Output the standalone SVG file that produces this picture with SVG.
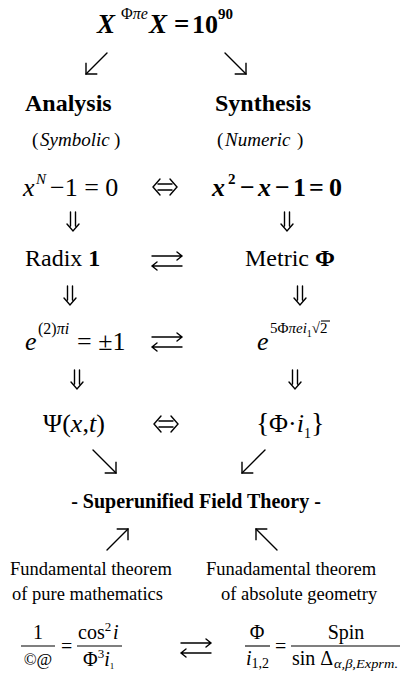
<svg xmlns="http://www.w3.org/2000/svg" width="403" height="673" viewBox="0 0 403 673">
<defs>
<style>
.t{font-family:'Liberation Serif','Times New Roman',serif;fill:#000}
.b{font-weight:bold}
.i{font-style:italic}
.ar{fill:none;stroke:#000;stroke-width:1.4;stroke-linecap:round;stroke-linejoin:miter}
.ln{fill:none;stroke:#000;stroke-width:1.1}
</style>
<marker id="ah" viewBox="0 0 10 18" refX="9" refY="9" markerWidth="10" markerHeight="18" orient="auto" markerUnits="userSpaceOnUse">
<path d="M1,1 L9,9 L1,17" fill="none" stroke="#000" stroke-width="1.4"/>
</marker>
<g id="iff" class="ar"><path d="M-7,-3 H7 M-7,3 H7 M-5,-8 L-12,0 L-5,8 M5,-8 L12,0 L5,8"/></g>
<g id="down" class="ar"><path d="M-2.5,0 V14 M2.5,0 V14 M-6,12 L0,19 L6,12"/></g>
<g id="rlarr" class="ar"><path d="M-15,-5 H15 M10,-9 L15,-5 L10,-1 M15,5 H-15 M-10,9 L-15,5 L-10,1"/></g>
</defs>
<rect width="403" height="673" fill="#fff"/>

<g id="title">
<text class="t" y="33"><tspan class="b i" font-size="27" x="97">X</tspan><tspan font-size="16" x="121" y="19">Φ</tspan><tspan class="i" font-size="16" y="19">πe</tspan><tspan class="b i" font-size="27" x="149" y="33">X</tspan><tspan class="b" font-size="27" x="174">=</tspan><tspan class="b" font-size="26" x="192">10</tspan><tspan class="b" font-size="15" x="218" y="19">90</tspan></text>
</g>

<g id="analysis">
<text class="t b" font-size="24" x="25" y="111">Analysis</text>
<text class="t" font-size="19" y="146"><tspan x="32">(</tspan><tspan class="i" x="40">Symbolic</tspan><tspan x="114">)</tspan></text>
</g>
<g id="synthesis">
<text class="t b" font-size="24" x="215" y="111">Synthesis</text>
<text class="t" font-size="19" y="146"><tspan x="217">(</tspan><tspan class="i" x="225">Numeric</tspan><tspan x="297">)</tspan></text>
</g>

<g id="eqL1">
<text class="t" font-size="26" y="196"><tspan class="i" x="23">x</tspan><tspan class="i" font-size="15" x="36" y="184">N</tspan><tspan x="50" y="196">−1 = 0</tspan></text>
</g>
<g id="eqR1">
<text class="t b" font-size="26" y="196"><tspan class="i" x="212">x</tspan><tspan font-size="15" x="228" y="184">2</tspan><tspan x="240" y="196">−</tspan><tspan class="i" x="258">x</tspan><tspan x="275">−</tspan><tspan x="293">1</tspan><tspan x="309">=</tspan><tspan x="329">0</tspan></text>
</g>

<g id="radix">
<text class="t" font-size="24" x="25" y="266">Radix <tspan class="b">1</tspan></text>
</g>
<g id="metric">
<text class="t" font-size="24" x="245" y="266">Metric <tspan class="b">Φ</tspan></text>
</g>

<g id="eqL2">
<text class="t" font-size="26" y="350"><tspan class="i" x="25">e</tspan><tspan font-size="16" x="38" y="334">(2)</tspan><tspan class="i" font-size="16" y="334">πi</tspan><tspan x="77" y="350">= ±1</tspan></text>
</g>
<g id="eqR2">
<text class="t" font-size="26" y="350"><tspan class="i" x="257">e</tspan><tspan font-size="15" x="270" y="333">5Φ</tspan><tspan class="i" font-size="15" y="333">πei</tspan><tspan font-size="10" y="337">1</tspan><tspan font-size="15" y="333">√2</tspan></text>
<line class="ln" x1="321" y1="321" x2="330" y2="321"/>
</g>

<g id="psi">
<text class="t" font-size="26" y="432"><tspan x="43">Ψ(</tspan><tspan class="i">x</tspan><tspan>,</tspan><tspan class="i">t</tspan><tspan>)</tspan></text>
</g>
<g id="phiset">
<text class="t" font-size="26" y="432"><tspan font-size="28" x="256">{</tspan><tspan x="269">Φ·</tspan><tspan class="i">i</tspan><tspan font-size="14" y="438">1</tspan><tspan font-size="28" y="432">}</tspan></text>
</g>

<g id="sft">
<text class="t b" font-size="20" x="196" y="508" text-anchor="middle">- Superunified Field Theory -</text>
</g>

<g id="fundL">
<text class="t" font-size="18.5" x="10" y="575">Fundamental theorem</text>
<text class="t" font-size="18.5" x="12" y="600">of pure mathematics</text>
</g>
<g id="fundR">
<text class="t" font-size="18.5" x="206" y="575">Funadamental theorem</text>
<text class="t" font-size="18.5" x="221" y="600">of absolute geometry</text>
</g>

<g id="fracL">
<text class="t" font-size="20" x="38" y="639" text-anchor="middle">1</text>
<line class="ln" x1="21" y1="646" x2="55" y2="646"/>
<text class="t" font-size="17" x="38" y="665" text-anchor="middle">©@</text>
<text class="t" font-size="20" x="61" y="653">=</text>
<text class="t" font-size="20" y="639"><tspan x="78">cos</tspan><tspan font-size="13" y="631">2</tspan><tspan class="i" x="113" y="639">i</tspan></text>
<line class="ln" x1="77" y1="646" x2="122" y2="646"/>
<text class="t" font-size="20" y="666"><tspan x="83">Φ</tspan><tspan font-size="13" y="658">3</tspan><tspan class="i" y="666">i</tspan><tspan font-size="9" y="669">1</tspan></text>
</g>
<g id="fracR">
<text class="t" font-size="20" x="257" y="639" text-anchor="middle">Φ</text>
<line class="ln" x1="245" y1="646" x2="270" y2="646"/>
<text class="t" font-size="20" y="665"><tspan class="i" x="246">i</tspan><tspan font-size="14" y="668">1,2</tspan></text>
<text class="t" font-size="20" x="275" y="653">=</text>
<text class="t" font-size="20" x="346" y="639" text-anchor="middle">Spin</text>
<line class="ln" x1="291" y1="646" x2="400" y2="646"/>
<text class="t" font-size="20" x="292" y="665">sin Δ</text>
<text class="t i" font-size="12" x="334" y="668" textLength="64" lengthAdjust="spacingAndGlyphs">α,β,Exprm.</text>
</g>

<g id="connectors">
<path class="ar" d="M107,53 L86,74" marker-end="url(#ah)"/>
<path class="ar" d="M225,53 L246,74" marker-end="url(#ah)"/>
<use href="#iff" x="165" y="187"/>
<use href="#down" x="73" y="212"/>
<use href="#down" x="287" y="212"/>
<use href="#rlarr" x="167" y="261"/>
<use href="#down" x="70" y="286"/>
<use href="#down" x="300" y="286"/>
<use href="#rlarr" x="167" y="342"/>
<use href="#down" x="77" y="370"/>
<use href="#down" x="295" y="370"/>
<use href="#iff" x="166" y="424"/>
<path class="ar" d="M93,450 L116,473" marker-end="url(#ah)"/>
<path class="ar" d="M265,450 L242,473" marker-end="url(#ah)"/>
<path class="ar" d="M107,550 L128,529" marker-end="url(#ah)"/>
<path class="ar" d="M277,550 L256,529" marker-end="url(#ah)"/>
<use href="#rlarr" x="196" y="648"/>
</g>
</svg>
